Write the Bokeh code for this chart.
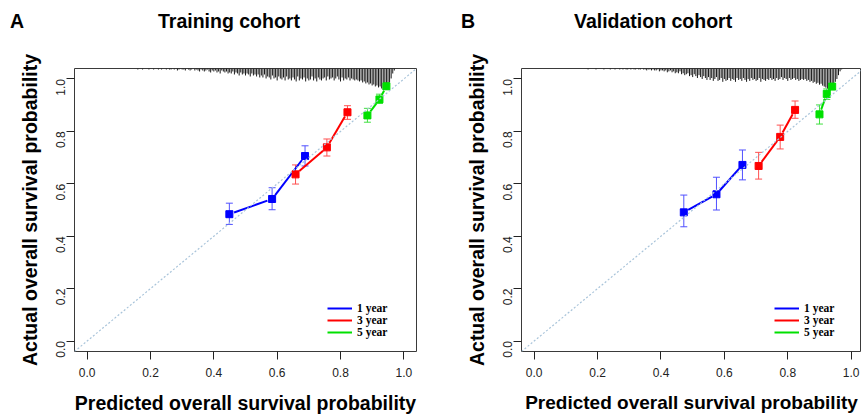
import numpy as np
from bokeh.plotting import figure
from bokeh.models import (Legend, LegendItem, Whisker, ColumnDataSource,
                          FixedTicker, TeeHead, Slope, Div)
from bokeh.layouts import row, column
from bokeh.embed import file_html
from bokeh.resources import INLINE

# ---------------- data ----------------
TICKS = [0.0, 0.2, 0.4, 0.6, 0.8, 1.0]
TICK_LABELS = ["0.0", "0.2", "0.4", "0.6", "0.8", "1.0"]
YEARS = ["1 year", "3 year", "5 year"]
PANEL_LETTERS = ["A", "B"]
PANEL_TITLES = ["Training cohort", "Validation cohort"]
X_LABEL = "Predicted overall survival probability"
Y_LABEL = "Actual overall survival probability"

# Training cohort
tr_pred_1y = [0.449, 0.584, 0.688]
tr_obs_1y = [0.484, 0.542, 0.706]
tr_lo_1y = [0.445, 0.501, 0.668]
tr_hi_1y = [0.526, 0.585, 0.745]
tr_pred_3y = [0.658, 0.757, 0.822]
tr_obs_3y = [0.636, 0.739, 0.873]
tr_lo_3y = [0.599, 0.706, 0.846]
tr_hi_3y = [0.672, 0.771, 0.898]
tr_pred_5y = [0.885, 0.923, 0.945]
tr_obs_5y = [0.861, 0.922, 0.972]
tr_lo_5y = [0.835, 0.907, 0.960]
tr_hi_5y = [0.888, 0.942, 0.984]

# Validation cohort
va_pred_1y = [0.472, 0.575, 0.657]
va_obs_1y = [0.491, 0.560, 0.672]
va_lo_1y = [0.436, 0.500, 0.615]
va_hi_1y = [0.557, 0.625, 0.729]
va_pred_3y = [0.708, 0.776, 0.823]
va_obs_3y = [0.668, 0.779, 0.882]
va_lo_3y = [0.618, 0.733, 0.850]
va_hi_3y = [0.720, 0.824, 0.916]
va_pred_5y = [0.900, 0.923, 0.940]
va_obs_5y = [0.865, 0.943, 0.971]
va_lo_5y = [0.828, 0.922, 0.960]
va_hi_5y = [0.901, 0.962, 0.982]

# distribution of predicted probabilities (spike histogram at top), bins of 0.005 from 0.160
SPIKE_START = 0.160
SPIKE_STEP = 0.005
tr_spike_counts = [
    1, 0, 0, 1, 0, 0, 0, 1, 0, 0, 1, 0, 0, 1, 0, 1, 0, 0,
    1, 0, 1, 1, 0, 1, 0, 2, 1, 0, 1, 1, 2, 0, 1, 2, 1, 0, 2, 1,
    2, 3, 1, 2, 3, 2, 1, 3, 4, 2, 3, 2, 4, 3, 5, 2, 3, 4, 3, 5,
    4, 5, 3, 6, 4, 5, 7, 4, 6, 5, 7, 5, 6, 8, 5, 7, 6, 8, 6, 9,
    7, 9, 6, 10, 8, 9, 11, 7, 10, 9, 12, 8, 10, 11, 9, 12, 8, 11, 10, 12,
    9, 11, 13, 8, 12, 10, 11, 9, 13, 10, 12, 11, 8, 12, 10, 13, 9, 11, 12, 10,
    9, 12, 8, 11, 10, 9, 12, 10, 8, 11, 13, 9, 12, 10, 11, 9, 12, 10, 11, 12,
    11, 12, 13, 12, 14, 13, 15, 14, 16, 15, 17, 16, 18, 17, 19, 18, 20, 21, 20, 21,
    18, 14, 10, 5, 2,
]
va_spike_counts = [
    0, 0, 1, 0, 0, 0, 0, 1, 0, 0, 0, 0, 1, 0, 0, 0, 1, 0,
    0, 1, 0, 0, 1, 0, 1, 0, 1, 1, 0, 1, 0, 1, 1, 0, 1, 1, 0, 1,
    1, 2, 1, 1, 2, 1, 2, 2, 1, 3, 2, 2, 3, 2, 4, 3, 2, 4, 3, 5,
    4, 5, 3, 6, 5, 7, 6, 5, 8, 7, 9, 6, 8, 10, 7, 9, 11, 8, 10, 12,
    9, 12, 10, 13, 11, 9, 13, 12, 10, 14, 11, 13, 12, 10, 13, 11, 12, 14, 10, 12,
    11, 13, 10, 12, 14, 11, 13, 10, 12, 11, 13, 12, 10, 14, 11, 12, 13, 11, 12, 10,
    12, 11, 13, 10, 12, 11, 9, 12, 10, 11, 13, 10, 12, 11, 10, 12, 11, 13, 12, 11,
    12, 11, 13, 12, 14, 13, 15, 14, 16, 15, 17, 16, 18, 19, 20, 21, 22, 21, 19, 17,
    14, 11, 7, 3, 1,
]

# ---------------- style ----------------
COLORS = ["#0000ff", "#ff0000", "#00e000"]
ERR_COLORS = ["#5050ff", "#ff5050", "#40e040"]
FONT = "Liberation Sans"
SERIF = "Liberation Serif"
PX_PER_UNIT = 317.0
FRAME_H = 283
FRAME_W = 342
Y_RANGE = (-0.04, 1.04)
SPIKE_FRAC = 0.08
HEADER_H = 48


def gapped_segments(xs, ys, xpx, ypx, gap=5.0):
    x0, y0, x1, y1 = [], [], [], []
    for i in range(len(xs) - 1):
        dx = (xs[i + 1] - xs[i]) * xpx
        dy = (ys[i + 1] - ys[i]) * ypx
        L = float(np.hypot(dx, dy))
        f = gap / L if L > 2 * gap else 0.0
        x0.append(xs[i] + (xs[i + 1] - xs[i]) * f)
        y0.append(ys[i] + (ys[i + 1] - ys[i]) * f)
        x1.append(xs[i + 1] - (xs[i + 1] - xs[i]) * f)
        y1.append(ys[i + 1] - (ys[i + 1] - ys[i]) * f)
    return dict(x0=x0, y0=y0, x1=x1, y1=y1)


def make_panel(series, spikes, border_left, frame_w, border_right, x_end, xlabel_size):
    p = figure(frame_width=frame_w, frame_height=FRAME_H,
               min_border_left=border_left, min_border_right=border_right,
               min_border_top=68 - HEADER_H, min_border_bottom=64,
               x_range=(-0.04, x_end), y_range=Y_RANGE,
               output_backend="svg", toolbar_location=None, tools="")
    p.grid.visible = False
    p.outline_line_color = "#3a3a3a"
    p.outline_line_width = 1
    p.background_fill_color = "white"
    p.border_fill_color = "white"

    for ax in (p.xaxis[0], p.yaxis[0]):
        ax.ticker = FixedTicker(ticks=TICKS)
        ax.major_label_overrides = {t: l for t, l in zip(TICKS, TICK_LABELS)}
        ax.axis_line_color = None
        ax.major_tick_out = 8
        ax.major_tick_in = 0
        ax.major_tick_line_color = "#222222"
        ax.minor_tick_line_color = None
        ax.major_label_text_font = FONT
        ax.major_label_text_font_size = "12px"
        ax.major_label_text_color = "#222222"
        ax.axis_label_text_font = FONT
        ax.axis_label_text_font_style = "bold"
        ax.axis_label_text_font_size = "19.5px"
        ax.axis_label_text_color = "black"
    p.xaxis.axis_label = X_LABEL
    p.yaxis.axis_label = Y_LABEL
    p.xaxis.axis_label_text_font_size = xlabel_size
    p.xaxis.major_label_standoff = 8
    p.xaxis.axis_label_standoff = 12
    p.yaxis.major_label_standoff = 6
    p.yaxis.axis_label_standoff = 8
    p.yaxis.major_label_orientation = np.pi / 2

    # diagonal reference
    p.add_layout(Slope(gradient=1, y_intercept=0, line_color="#a9c4da",
                       line_width=1.2, line_dash="2 2"))

    # spike histogram at top
    counts = np.array(spikes, dtype=float)
    xs = SPIKE_START + SPIKE_STEP * np.arange(len(counts))
    keep = counts > 0
    top = Y_RANGE[1]
    p.segment(x0=xs[keep], y0=[top] * int(keep.sum()), x1=xs[keep],
              y1=top - counts[keep] / counts.max() * SPIKE_FRAC,
              line_color="#1a1a1a", line_width=1)

    ypx = FRAME_H / (Y_RANGE[1] - Y_RANGE[0])
    items = []
    for k, (pred, obs, lo, hi) in enumerate(series):
        src = ColumnDataSource(dict(x=pred, y=obs, lo=lo, hi=hi))
        seg = p.segment(x0="x0", y0="y0", x1="x1", y1="y1",
                        source=ColumnDataSource(gapped_segments(pred, obs, PX_PER_UNIT, ypx)),
                        line_color=COLORS[k], line_width=2)
        w = Whisker(source=src, base="x", upper="hi", lower="lo", dimension="height",
                    line_color=ERR_COLORS[k], line_width=1,
                    upper_head=TeeHead(size=7, line_color=ERR_COLORS[k], line_width=1),
                    lower_head=TeeHead(size=7, line_color=ERR_COLORS[k], line_width=1))
        p.add_layout(w)
        p.scatter("x", "y", source=src, marker="x", size=9, line_color="#4a4aff", line_width=1)
        p.scatter("x", "y", source=src, marker="square", size=7,
                  fill_color=COLORS[k], line_color=COLORS[k])
        items.append(LegendItem(label=YEARS[k], renderers=[seg]))

    leg = Legend(items=items, location=(253, 13), padding=0, margin=0, spacing=0,
                 glyph_width=25, glyph_height=12, label_height=12, label_standoff=5,
                 label_text_font=SERIF, label_text_font_style="bold",
                 label_text_font_size="11.5px", label_text_color="black",
                 border_line_alpha=0, background_fill_alpha=0)
    p.add_layout(leg)
    return p


train_series = [(tr_pred_1y, tr_obs_1y, tr_lo_1y, tr_hi_1y),
                (tr_pred_3y, tr_obs_3y, tr_lo_3y, tr_hi_3y),
                (tr_pred_5y, tr_obs_5y, tr_lo_5y, tr_hi_5y)]
valid_series = [(va_pred_1y, va_obs_1y, va_lo_1y, va_hi_1y),
                (va_pred_3y, va_obs_3y, va_lo_3y, va_hi_3y),
                (va_pred_5y, va_obs_5y, va_lo_5y, va_hi_5y)]

p1 = make_panel(train_series, tr_spike_counts, 74, FRAME_W, 22, 1.04, "19.5px")
right_w = 340
p2 = make_panel(valid_series, va_spike_counts, 83, right_w, 0,
                -0.04 + right_w / PX_PER_UNIT, "19px")

# header with panel letters and titles
letter_left = [10, 461]
title_left = [158, 574]
spans = []
for i in range(2):
    spans.append('<span style="position:absolute;left:%dpx;top:12px;">%s</span>'
                 % (letter_left[i], PANEL_LETTERS[i]))
    spans.append('<span style="position:absolute;left:%dpx;top:12px;">%s</span>'
                 % (title_left[i], PANEL_TITLES[i]))
header_html = ('<div style="position:relative;width:861px;height:%dpx;'
               "font-family:'Liberation Sans';font-weight:bold;font-size:19.5px;"
               'line-height:19.5px;color:black;white-space:nowrap;">%s</div>'
               % (HEADER_H, "".join(spans)))
header = Div(text=header_html, width=861, height=HEADER_H, margin=(0, 0, 0, 0))

layout = column(header, row(p1, p2))
open("out.html", "w").write(file_html(layout, INLINE))
